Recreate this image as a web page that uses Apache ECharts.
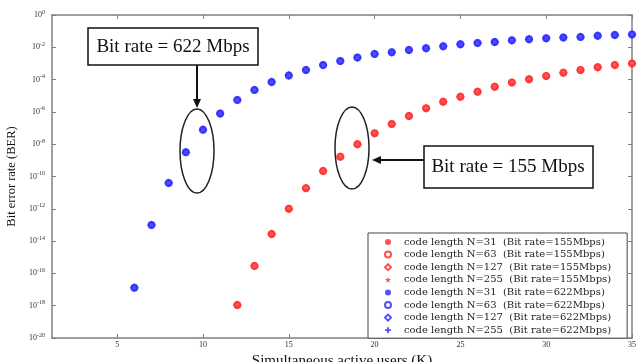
<!DOCTYPE html>
<html>
<head>
<meta charset="utf-8">
<script src="https://cdn.jsdelivr.net/npm/echarts@6/dist/echarts.min.js"></script>
<style>
  html, body { margin: 0; padding: 0; background: #fff; }
  #ber-chart { width: 638px; height: 362px; }
</style>
</head>
<body>
<div id="ber-chart"></div>
<script>
// simultaneous users (K) and BER
const users622 = [6, 7, 8, 9, 10, 11, 12, 13, 14, 15, 16, 17, 18, 19, 20,
  21, 22, 23, 24, 25, 26, 27, 28, 29, 30, 31, 32, 33, 34, 35];
const ber622 = [1.3e-17, 1e-13, 4e-11, 3.2e-9, 7.9e-8, 7.9e-7, 5.5e-6, 2.3e-5, 7.1e-5, 1.8e-4,
  3.9e-4, 7.9e-4, 1.4e-3, 2.3e-3, 3.9e-3, 4.9e-3, 6.8e-3, 8.7e-3, 1.15e-2, 1.55e-2,
  1.86e-2, 2.14e-2, 2.7e-2, 3.2e-2, 3.6e-2, 4.0e-2, 4.4e-2, 5.2e-2, 5.8e-2, 6.3e-2];

const users155 = [12, 13, 14, 15, 16, 17, 18, 19, 20, 21, 22, 23,
  24, 25, 26, 27, 28, 29, 30, 31, 32, 33, 34, 35];
const ber155 = [1.1e-18, 2.9e-16, 2.75e-14, 1e-12, 1.9e-11, 2.2e-10, 1.7e-9, 1.0e-8, 4.7e-8, 1.8e-7, 5.6e-7, 1.66e-6,
  4.3e-6, 8.7e-6, 1.8e-5, 3.6e-5, 6.5e-5, 1.05e-4, 1.66e-4, 2.7e-4, 3.9e-4, 5.8e-4, 7.9e-4, 1.0e-3];

const codeLengths = [31, 63, 127, 255];
const xTicks = [5, 10, 15, 20, 25, 30, 35];

const serif = 'Liberation Serif';
const axisColor = '#808080';
const starPath = 'path://M0,-10L2.4,-3.3L9.5,-3.1L3.9,1.3L5.9,8.1L0,4.1L-5.9,8.1L-3.9,1.3L-9.5,-3.1L-2.4,-3.3Z';
const plusPath = 'path://M-3,-10H3V-3H10V3H3V10H-3V3H-10V-3H-3Z';

let chart;

function createOption() {
  const markers = {
    155: [
      { symbol: 'circle', size: 5 },
      { symbol: 'emptyCircle', size: 6 },
      { symbol: 'emptyDiamond', size: 6 },
      { symbol: starPath, size: 5 }
    ],
    622: [
      { symbol: 'circle', size: 5 },
      { symbol: 'emptyCircle', size: 6 },
      { symbol: 'emptyDiamond', size: 6 },
      { symbol: plusPath, size: 5 }
    ]
  };
  const colors = { 155: '#ff2626', 622: '#2626ff' };
  const sources = {
    155: users155.map((k, i) => [k, ber155[i]]),
    622: users622.map((k, i) => [k, ber622[i]])
  };

  const series = [];
  [155, 622].forEach(rate => {
    codeLengths.forEach((n, j) => {
      const m = markers[rate][j];
      series.push({
        name: 'code length N=' + n + '  (Bit rate=' + rate + 'Mbps)',
        type: 'scatter',
        data: sources[rate],
        symbol: m.symbol,
        symbolSize: m.size,
        itemStyle: { color: colors[rate], borderWidth: 1 },
        z: 2 + j
      });
    });
  });

  const expLabel = v => {
    const e = Math.round(Math.log10(v));
    return '{b|10}{s|' + e + '}';
  };

  const tickCommon = { inside: true, length: 4, lineStyle: { color: axisColor } };

  return {
    animation: false,
    backgroundColor: '#fff',
    grid: { left: 52, right: 6, top: 15, bottom: 24, outerBoundsMode: 'none', containLabel: false },
    legend: {
      orient: 'vertical',
      left: 368,
      top: 233,
      padding: [3, 16, 2, 16],
      itemGap: 0.6,
      itemWidth: 6,
      itemHeight: 6,
      backgroundColor: '#fff',
      borderColor: '#444',
      borderWidth: 1,
      textStyle: { fontFamily: 'DejaVu Serif', fontSize: 10, lineHeight: 12, color: '#222', padding: [0, 0, 0, 8] },
      data: series.map(s => s.name)
    },
    xAxis: [
      {
        type: 'value',
        min: 1.2,
        max: 35,
        position: 'bottom',
        name: 'Simultaneous active users (K)',
        nameLocation: 'middle',
        nameGap: 10,
        nameTextStyle: { fontFamily: serif, fontSize: 15, color: '#111' },
        axisLine: { lineStyle: { color: axisColor, width: 1.5 } },
        axisTick: { ...tickCommon, customValues: xTicks },
        axisLabel: { customValues: xTicks, fontFamily: serif, fontSize: 8, color: '#333', margin: 3 },
        splitLine: { show: false }
      },
      {
        type: 'value',
        min: 1.2,
        max: 35,
        position: 'top',
        axisLine: { lineStyle: { color: axisColor, width: 1.5 } },
        axisTick: { ...tickCommon, customValues: xTicks },
        axisLabel: { show: false },
        splitLine: { show: false }
      }
    ],
    yAxis: [
      {
        type: 'log',
        logBase: 10,
        min: 1e-20,
        max: 1,
        interval: 2,
        position: 'left',
        name: 'Bit error rate (BER)',
        nameLocation: 'middle',
        nameGap: 25,
        nameTextStyle: { fontFamily: serif, fontSize: 12.5, color: '#111' },
        axisLine: { lineStyle: { color: axisColor, width: 1.5 } },
        axisTick: tickCommon,
        axisLabel: {
          margin: 7,
          formatter: expLabel,
          rich: {
            b: { fontFamily: serif, fontSize: 8, color: '#333' },
            s: { fontFamily: serif, fontSize: 6, color: '#333', verticalAlign: 'bottom', padding: [0, 0, 6, 0] }
          }
        },
        splitLine: { show: false }
      },
      {
        type: 'log',
        logBase: 10,
        min: 1e-20,
        max: 1,
        interval: 2,
        position: 'right',
        axisLine: { lineStyle: { color: axisColor, width: 1.5 } },
        axisTick: tickCommon,
        axisLabel: { show: false },
        splitLine: { show: false }
      }
    ],
    graphic: [
      // 622 Mbps annotation
      {
        type: 'rect', shape: { x: 88, y: 28, width: 170, height: 37 },
        style: { fill: '#fff', stroke: '#111', lineWidth: 1.5 }, z: 20
      },
      {
        type: 'text', x: 173, y: 47,
        style: { text: 'Bit rate = 622 Mbps', fontFamily: serif, fontSize: 19, fill: '#111', align: 'center', verticalAlign: 'middle' },
        z: 21
      },
      { type: 'line', shape: { x1: 197, y1: 65, x2: 197, y2: 101 }, style: { stroke: '#111', lineWidth: 2 }, z: 20 },
      { type: 'polygon', shape: { points: [[197, 108], [193, 99], [201, 99]] }, style: { fill: '#111' }, z: 20 },
      {
        type: 'ellipse', shape: { cx: 197, cy: 151, rx: 17, ry: 42 },
        style: { fill: null, stroke: '#222', lineWidth: 1.5 }, z: 20
      },
      // 155 Mbps annotation
      {
        type: 'rect', shape: { x: 424, y: 146, width: 169, height: 42 },
        style: { fill: '#fff', stroke: '#111', lineWidth: 1.5 }, z: 20
      },
      {
        type: 'text', x: 508, y: 167,
        style: { text: 'Bit rate = 155 Mbps', fontFamily: serif, fontSize: 19, fill: '#111', align: 'center', verticalAlign: 'middle' },
        z: 21
      },
      { type: 'line', shape: { x1: 424, y1: 160, x2: 379, y2: 160 }, style: { stroke: '#111', lineWidth: 2 }, z: 20 },
      { type: 'polygon', shape: { points: [[372, 160], [381, 156], [381, 164]] }, style: { fill: '#111' }, z: 20 },
      {
        type: 'ellipse', shape: { cx: 352, cy: 148, rx: 17, ry: 41 },
        style: { fill: null, stroke: '#222', lineWidth: 1.5 }, z: 20
      }
    ],
    series
  };
}

chart = echarts.init(document.getElementById('ber-chart'));
chart.setOption(createOption());
</script>
</body>
</html>
